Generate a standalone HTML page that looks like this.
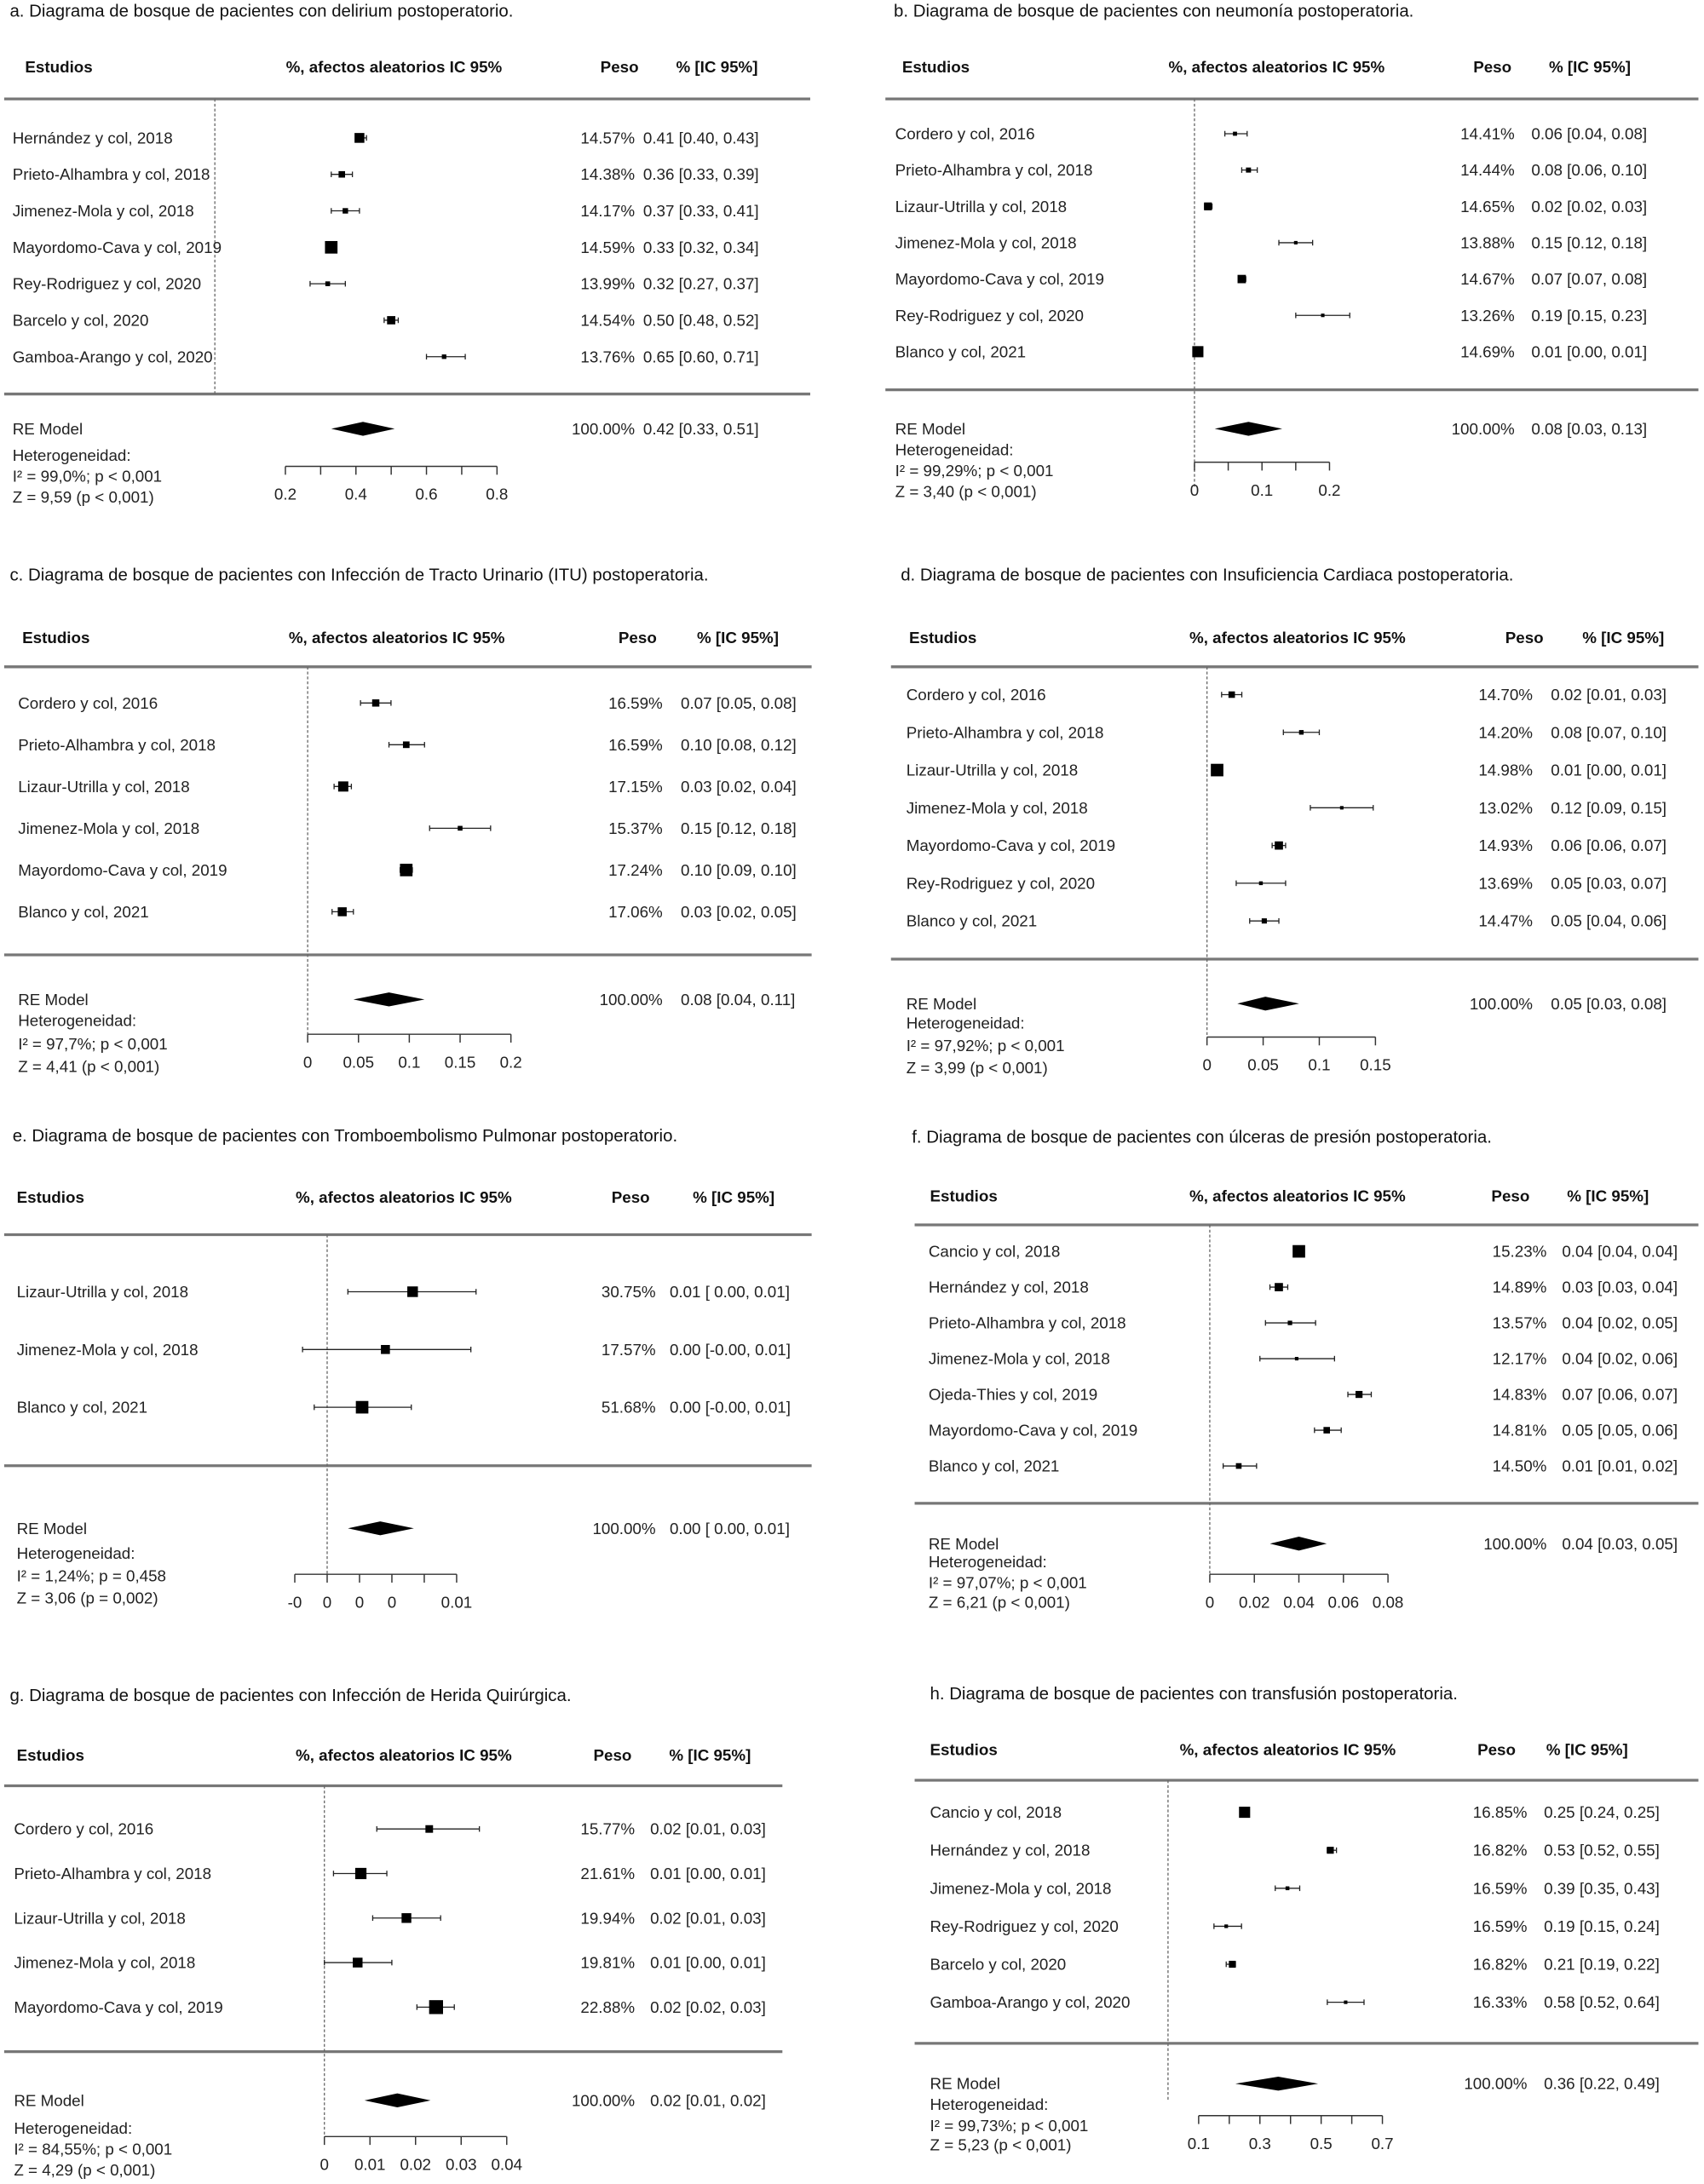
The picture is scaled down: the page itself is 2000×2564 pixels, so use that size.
<!DOCTYPE html>
<html><head><meta charset="utf-8">
<style>
html,body{margin:0;padding:0;background:#fff;}
svg{display:block;}
text{font-family:"Liberation Sans",Arial,sans-serif;fill:#222;}
.hd{font-weight:bold;font-size:11.5px;fill:#111;}
.tx{font-size:11.5px;}
.ti{font-size:12.5px;fill:#111;}
</style></head>
<body>
<svg id="chart" width="2000" height="2564" viewBox="0 0 1224 1569" xmlns="http://www.w3.org/2000/svg"></svg>
<script>
// ---------- DATA ----------
const aStudies=["Hernández y col, 2018","Prieto-Alhambra y col, 2018","Jimenez-Mola y col, 2018","Mayordomo-Cava y col, 2019","Rey-Rodriguez y col, 2020","Barcelo y col, 2020","Gamboa-Arango y col, 2020"];
const aWeights=["14.57%","14.38%","14.17%","14.59%","13.99%","14.54%","13.76%"];
const aEst=[0.41,0.36,0.37,0.33,0.32,0.50,0.65];
const aLo=[0.40,0.33,0.33,0.32,0.27,0.48,0.60];
const aHi=[0.43,0.39,0.41,0.34,0.37,0.52,0.71];
const aRE=[0.42,0.33,0.51];
const aTicks=[0.2,0.3,0.4,0.5,0.6,0.7,0.8];
const aTickLabels=["0.2","","0.4","","0.6","","0.8"];

const bStudies=["Cordero y col, 2016","Prieto-Alhambra y col, 2018","Lizaur-Utrilla y col, 2018","Jimenez-Mola y col, 2018","Mayordomo-Cava y col, 2019","Rey-Rodriguez y col, 2020","Blanco y col, 2021"];
const bWeights=["14.41%","14.44%","14.65%","13.88%","14.67%","13.26%","14.69%"];
const bEst=[0.06,0.08,0.02,0.15,0.07,0.19,0.005];
const bLo=[0.045,0.07,0.015,0.125,0.066,0.15,0.003];
const bHi=[0.078,0.093,0.026,0.175,0.076,0.23,0.008];
const bRE=[0.08,0.03,0.13];
const bTicks=[0,0.05,0.1,0.15,0.2];
const bTickLabels=["0","","0.1","","0.2"];

const cStudies=["Cordero y col, 2016","Prieto-Alhambra y col, 2018","Lizaur-Utrilla y col, 2018","Jimenez-Mola y col, 2018","Mayordomo-Cava y col, 2019","Blanco y col, 2021"];
const cWeights=["16.59%","16.59%","17.15%","15.37%","17.24%","17.06%"];
const cEst=[0.067,0.097,0.035,0.15,0.097,0.034];
const cLo=[0.052,0.08,0.026,0.12,0.091,0.024];
const cHi=[0.082,0.115,0.043,0.18,0.103,0.045];
const cRE=[0.08,0.045,0.115];
const cTicks=[0,0.05,0.1,0.15,0.2];
const cTickLabels=["0","0.05","0.1","0.15","0.2"];

const dStudies=["Cordero y col, 2016","Prieto-Alhambra y col, 2018","Lizaur-Utrilla y col, 2018","Jimenez-Mola y col, 2018","Mayordomo-Cava y col, 2019","Rey-Rodriguez y col, 2020","Blanco y col, 2021"];
const dWeights=["14.70%","14.20%","14.98%","13.02%","14.93%","13.69%","14.47%"];
const dEst=[0.022,0.084,0.009,0.12,0.064,0.048,0.051];
const dLo=[0.013,0.068,0.006,0.092,0.058,0.026,0.038];
const dHi=[0.031,0.1,0.012,0.148,0.07,0.07,0.064];
const dRE=[0.052,0.027,0.082];
const dTicks=[0,0.05,0.1,0.15];
const dTickLabels=["0","0.05","0.1","0.15"];

const eStudies=["Lizaur-Utrilla y col, 2018","Jimenez-Mola y col, 2018","Blanco y col, 2021"];
const eWeights=["30.75%","17.57%","51.68%"];
const eEst=[0.0066,0.0045,0.0027];
const eLo=[0.0016,-0.0019,-0.001];
const eHi=[0.0115,0.0111,0.0065];
const eRE=[0.0041,0.0016,0.0067];
const eTicks=[-0.0025,0,0.0025,0.005,0.0075,0.01];
const eTickLabels=["-0","0","0","0","","0.01"];

const fStudies=["Cancio y col, 2018","Hernández y col, 2018","Prieto-Alhambra y col, 2018","Jimenez-Mola y col, 2018","Ojeda-Thies y col, 2019","Mayordomo-Cava y col, 2019","Blanco y col, 2021"];
const fWeights=["15.23%","14.89%","13.57%","12.17%","14.83%","14.81%","14.50%"];
const fEst=[0.04,0.031,0.036,0.039,0.067,0.0525,0.013];
const fLo=[0.038,0.027,0.025,0.0225,0.062,0.047,0.006];
const fHi=[0.042,0.035,0.0475,0.056,0.0725,0.059,0.021];
const fRE=[0.04,0.027,0.0525];
const fTicks=[0,0.02,0.04,0.06,0.08];
const fTickLabels=["0","0.02","0.04","0.06","0.08"];

const gStudies=["Cordero y col, 2016","Prieto-Alhambra y col, 2018","Lizaur-Utrilla y col, 2018","Jimenez-Mola y col, 2018","Mayordomo-Cava y col, 2019"];
const gWeights=["15.77%","21.61%","19.94%","19.81%","22.88%"];
const gEst=[0.023,0.008,0.018,0.0073,0.0245];
const gLo=[0.0115,0.002,0.0106,0,0.0203];
const gHi=[0.034,0.0137,0.0255,0.0148,0.0285];
const gRE=[0.016,0.0088,0.0233];
const gTicks=[0,0.01,0.02,0.03,0.04];
const gTickLabels=["0","0.01","0.02","0.03","0.04"];

const hStudies=["Cancio y col, 2018","Hernández y col, 2018","Jimenez-Mola y col, 2018","Rey-Rodriguez y col, 2020","Barcelo y col, 2020","Gamboa-Arango y col,  2020"];
const hWeights=["16.85%","16.82%","16.59%","16.59%","16.82%","16.33%"];
const hEst=[0.25,0.53,0.39,0.19,0.21,0.58];
const hLo=[0.24,0.52,0.35,0.15,0.19,0.52];
const hHi=[0.25,0.55,0.43,0.24,0.22,0.64];
const hRE=[0.36,0.22,0.49];
const hTicks=[0.1,0.2,0.3,0.4,0.5,0.6,0.7];
const hTickLabels=["0.1","","0.3","","0.5","","0.7"];

// printed CI text (as shown)
const aCI=["0.41 [0.40, 0.43]","0.36 [0.33, 0.39]","0.37 [0.33, 0.41]","0.33 [0.32, 0.34]","0.32 [0.27, 0.37]","0.50 [0.48, 0.52]","0.65 [0.60, 0.71]","0.42 [0.33, 0.51]"];
const bCI=["0.06 [0.04, 0.08]","0.08 [0.06, 0.10]","0.02 [0.02, 0.03]","0.15 [0.12, 0.18]","0.07 [0.07, 0.08]","0.19 [0.15, 0.23]","0.01 [0.00, 0.01]","0.08 [0.03, 0.13]"];
const cCI=["0.07 [0.05, 0.08]","0.10 [0.08, 0.12]","0.03 [0.02, 0.04]","0.15 [0.12, 0.18]","0.10 [0.09, 0.10]","0.03 [0.02, 0.05]","0.08 [0.04, 0.11]"];
const dCI=["0.02 [0.01, 0.03]","0.08 [0.07, 0.10]","0.01 [0.00, 0.01]","0.12 [0.09, 0.15]","0.06 [0.06, 0.07]","0.05 [0.03, 0.07]","0.05 [0.04, 0.06]","0.05 [0.03, 0.08]"];
const eCI=["0.01 [ 0.00, 0.01]","0.00 [-0.00, 0.01]","0.00 [-0.00, 0.01]","0.00 [ 0.00, 0.01]"];
const fCI=["0.04 [0.04, 0.04]","0.03 [0.03, 0.04]","0.04 [0.02, 0.05]","0.04 [0.02, 0.06]","0.07 [0.06, 0.07]","0.05 [0.05, 0.06]","0.01 [0.01, 0.02]","0.04 [0.03, 0.05]"];
const gCI=["0.02 [0.01, 0.03]","0.01 [0.00, 0.01]","0.02 [0.01, 0.03]","0.01 [0.00, 0.01]","0.02 [0.02, 0.03]","0.02 [0.01, 0.02]"];
const hCI=["0.25 [0.24, 0.25]","0.53 [0.52, 0.55]","0.39 [0.35, 0.43]","0.19 [0.15, 0.24]","0.21 [0.19, 0.22]","0.58 [0.52, 0.64]","0.36 [0.22, 0.49]"];

// ---------- LAYOUT ----------
const panels=[
 {id:"a",title:"a. Diagrama de bosque de pacientes con delirium postoperatorio.",tx:7,ty:12,L:3,R:582,hy:52,hE:18,hA:283,hP:445,hC:515,top:71,r0:99,rs:26.2,bot:283,re:308,h1:331,h2:346,h3:361,ay:335,x0v:0.2,x0:205,x1v:0.8,x1:357,nx:9,px:456,cx:462,refEnd:283,smax:9,
  st:aStudies,w:aWeights,est:aEst,lo:aLo,hi:aHi,RE:aRE,tk:aTicks,tl:aTickLabels,ci:aCI,het:["I² = 99,0%; p < 0,001","Z = 9,59 (p < 0,001)"]},
 {id:"b",title:"b. Diagrama de bosque de pacientes con neumonía postoperatoria.",tx:642,ty:12,L:636,R:1220,hy:52,hE:648,hA:917,hP:1072,hC:1142,top:71,r0:96,rs:26.1,bot:280,re:308,h1:327,h2:342,h3:357,ay:332,x0v:0,x0:858,x1v:0.2,x1:955,nx:643,px:1088,cx:1100,refEnd:350,smax:8,
  st:bStudies,w:bWeights,est:bEst,lo:bLo,hi:bHi,RE:bRE,tk:bTicks,tl:bTickLabels,ci:bCI,het:["I² = 99,29%; p < 0,001","Z = 3,40 (p < 0,001)"]},
 {id:"c",title:"c. Diagrama de bosque de pacientes con Infección de Tracto Urinario (ITU) postoperatoria.",tx:7,ty:417,L:3,R:583,hy:462,hE:16,hA:285,hP:458,hC:530,top:479,r0:505,rs:30,bot:686,re:718,h1:737,h2:754,h3:770,ay:743,x0v:0,x0:221,x1v:0.2,x1:367,nx:13,px:476,cx:489,refEnd:743,smax:9,
  st:cStudies,w:cWeights,est:cEst,lo:cLo,hi:cHi,RE:cRE,tk:cTicks,tl:cTickLabels,ci:cCI,het:["I² = 97,7%; p < 0,001","Z = 4,41 (p < 0,001)"]},
 {id:"d",title:"d. Diagrama de bosque de pacientes con Insuficiencia Cardiaca postoperatoria.",tx:647,ty:417,L:640,R:1220,hy:462,hE:653,hA:932,hP:1095,hC:1166,top:479,r0:499,rs:27.1,bot:689,re:721,h1:739,h2:755,h3:771,ay:745,x0v:0,x0:867,x1v:0.15,x1:988,nx:651,px:1101,cx:1114,refEnd:745,smax:9,
  st:dStudies,w:dWeights,est:dEst,lo:dLo,hi:dHi,RE:dRE,tk:dTicks,tl:dTickLabels,ci:dCI,het:["I² = 97,92%; p < 0,001","Z = 3,99 (p < 0,001)"]},
 {id:"e",title:"e. Diagrama de bosque de pacientes con Tromboembolismo Pulmonar postoperatorio.",tx:9,ty:820,L:3,R:583,hy:864,hE:12,hA:290,hP:453,hC:527,top:887,r0:928,rs:41.5,bot:1053,re:1098,h1:1120,h2:1136,h3:1152,ay:1131,x0v:0,x0:235,x1v:0.01,x1:328,nx:12,px:471,cx:481,refEnd:1131,smax:9,
  st:eStudies,w:eWeights,est:eEst,lo:eLo,hi:eHi,RE:eRE,tk:eTicks,tl:eTickLabels,ci:eCI,het:["I² = 1,24%; p = 0,458","Z = 3,06 (p = 0,002)"]},
 {id:"f",title:"f. Diagrama de bosque de pacientes con úlceras de presión postoperatoria.",tx:655,ty:821,L:657,R:1220,hy:863,hE:668,hA:932,hP:1085,hC:1155,top:880,r0:899,rs:25.7,bot:1080,re:1109,h1:1126,h2:1141,h3:1155,ay:1131,x0v:0,x0:869,x1v:0.08,x1:997,nx:667,px:1111,cx:1122,refEnd:1131,smax:9,
  st:fStudies,w:fWeights,est:fEst,lo:fLo,hi:fHi,RE:fRE,tk:fTicks,tl:fTickLabels,ci:fCI,het:["I² = 97,07%; p < 0,001","Z = 6,21 (p < 0,001)"]},
 {id:"g",title:"g. Diagrama de bosque de pacientes con Infección de Herida Quirúrgica.",tx:7,ty:1222,L:3,R:562,hy:1265,hE:12,hA:290,hP:440,hC:510,top:1283,r0:1314,rs:32,bot:1474,re:1509,h1:1533,h2:1548,h3:1563,ay:1535,x0v:0,x0:233,x1v:0.04,x1:364,nx:10,px:456,cx:467,refEnd:1535,smax:10,
  st:gStudies,w:gWeights,est:gEst,lo:gLo,hi:gHi,RE:gRE,tk:gTicks,tl:gTickLabels,ci:gCI,het:["I² = 84,55%; p < 0,001","Z = 4,29 (p < 0,001)"]},
 {id:"h",title:"h. Diagrama de bosque de pacientes con transfusión postoperatoria.",tx:668,ty:1221,L:657,R:1220,hy:1261,hE:668,hA:925,hP:1075,hC:1140,top:1279,r0:1302,rs:27.3,bot:1468,re:1497,h1:1516,h2:1531,h3:1545,ay:1520,x0v:0.1,x0:861,x1v:0.7,x1:993,nx:668,px:1097,cx:1109,refEnd:1510,smax:8,
  st:hStudies,w:hWeights,est:hEst,lo:hLo,hi:hHi,RE:hRE,tk:hTicks,tl:hTickLabels,ci:hCI,het:["I² = 99,73%; p < 0,001","Z = 5,23 (p < 0,001)"]}
];

const NS="http://www.w3.org/2000/svg";
const svg=document.getElementById("chart");
function mk(tag,attrs,parent,txt){
  const e=document.createElementNS(NS,tag);
  for(const k in attrs)e.setAttribute(k,attrs[k]);
  if(txt!==undefined)e.textContent=txt;
  parent.appendChild(e);return e;
}
panels.forEach(p=>{
  const g=mk("g",{},svg);
  
  
  const xs=v=>p.x0+(v-p.x0v)*(p.x1-p.x0)/(p.x1v-p.x0v);
  const t=mk("text",{x:p.tx,y:p.ty,class:"ti"},g,p.title);
  
  
  [[p.hE,"start","Estudios"],[p.hA,"middle","%, afectos aleatorios IC 95%"],[p.hP,"middle","Peso"],[p.hC,"middle","% [IC 95%]"]].forEach(h=>{
    const e=mk("text",{x:h[0],y:p.hy,"text-anchor":h[1],class:"hd"},g,h[2]);
    
    
  });
  [p.top,p.bot].forEach(y=>{
    const l=mk("line",{x1:p.L,x2:p.R,y1:y,y2:y,stroke:"#777","stroke-width":2},g);
    
    
  });
  const rx=xs(0);
  const ref=mk("line",{x1:rx,x2:rx,y1:p.top,y2:p.refEnd,stroke:"#666","stroke-width":0.8,"stroke-dasharray":"2,1.5"},g);
  
  
  // box sizes from CI pixel width
  const pws=p.lo.map((l,i)=>Math.max(3,xs(p.hi[i])-xs(l)));
  const mn=Math.min(...pws);
  p.st.forEach((name,i)=>{
    const y=p.r0+i*p.rs;
    const n=mk("text",{x:p.nx,y:y+4,class:"tx"},g,name);
    
    
    const w=mk("text",{x:p.px,y:y+4,"text-anchor":"end",class:"tx"},g,p.w[i]);
    
    
    const c=mk("text",{x:p.cx,y:y+4,class:"tx"},g,p.ci[i]);
    
    
    const xl=xs(p.lo[i]),xh=xs(p.hi[i]);
    const ln=mk("line",{x1:xl,x2:xh,y1:y,y2:y,stroke:"#222","stroke-width":0.8},g);
    
    
    [xl,xh].forEach(xx=>{
      const cap=mk("line",{x1:xx,x2:xx,y1:y-2,y2:y+2,stroke:"#222","stroke-width":0.8},g);
      
      
    });
    const s=Math.max(2.5,Math.min(p.smax,p.smax*Math.pow(mn/pws[i],0.6)));
    const b=mk("rect",{x:xs(p.est[i])-s/2,y:y-s/2,width:s,height:s,fill:"#000"},g);
    
    
  });
  const ni=p.st.length;
  const rl=mk("text",{x:p.nx,y:p.re+4,class:"tx"},g,"RE Model");
  
  
  const rw=mk("text",{x:p.px,y:p.re+4,"text-anchor":"end",class:"tx"},g,"100.00%");
  
  
  const rc=mk("text",{x:p.cx,y:p.re+4,class:"tx"},g,p.ci[ni]);
  
  
  const dm=mk("polygon",{points:`${xs(p.RE[1])},${p.re} ${xs(p.RE[0])},${p.re-5} ${xs(p.RE[2])},${p.re} ${xs(p.RE[0])},${p.re+5}`,fill:"#000"},g);
  
  
  [[p.h1,"Heterogeneidad:"],[p.h2,p.het[0]],[p.h3,p.het[1]]].forEach(h=>{
    const e=mk("text",{x:p.nx,y:h[0],class:"tx"},g,h[1]);
    
    
  });
  const ax=mk("line",{x1:xs(p.tk[0]),x2:xs(p.tk[p.tk.length-1]),y1:p.ay,y2:p.ay,stroke:"#333","stroke-width":0.9},g);
  
  
  p.tk.forEach((v,i)=>{
    const x=xs(v);
    const tk=mk("line",{x1:x,x2:x,y1:p.ay,y2:p.ay+6,stroke:"#333","stroke-width":0.9},g);
    
    
    if(p.tl[i]){
      const tl=mk("text",{x:x,y:p.ay+24,"text-anchor":"middle",class:"tx"},g,p.tl[i]);
      
      
    }
  });
});
</script>
</body></html>
